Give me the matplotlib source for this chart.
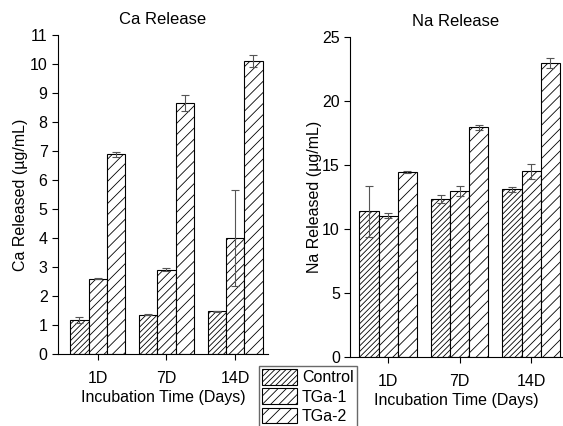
import matplotlib.pyplot as plt
import numpy as np
from matplotlib.patches import Patch

plt.rcParams['font.family'] = ['Liberation Sans', 'DejaVu Sans']
plt.rcParams['hatch.linewidth'] = 0.6
plt.rcParams['hatch.color'] = '#444444'

days = ['1D', '7D', '14D']
groups = ['Control', 'TGa-1', 'TGa-2']
hatches = ['//////', '////', '///']

ca_mean = [[1.18, 1.36, 1.47],
           [2.60, 2.90, 4.00],
           [6.88, 8.65, 10.10]]
ca_err = [[0.10, 0.03, 0.02],
          [0.03, 0.05, 1.65],
          [0.10, 0.28, 0.20]]

na_mean = [[11.40, 12.35, 13.10],
           [11.05, 13.00, 14.50],
           [14.45, 17.95, 23.00]]
na_err = [[2.00, 0.30, 0.20],
          [0.20, 0.40, 0.60],
          [0.07, 0.20, 0.40]]

fig = plt.figure(figsize=(5.63, 4.26), dpi=100)
ax1 = fig.add_axes([0.103, 0.169, 0.373, 0.749])
ax2 = fig.add_axes([0.622, 0.162, 0.376, 0.751])

x = np.arange(1, len(days) + 1)
w = 0.267


def draw(ax, means, errs, ymax, yticks, title, ylabel, xlim, ylpad):
    for i in range(len(groups)):
        ax.bar(x + (i - 1) * w, means[i], w, yerr=errs[i],
               color='white', edgecolor='black', linewidth=0.8,
               hatch=hatches[i],
               error_kw=dict(ecolor='#555555', elinewidth=0.8,
                             capsize=3, capthick=0.8))
    ax.set_ylim(0, ymax)
    ax.set_xlim(*xlim)
    ax.set_yticks(yticks)
    ax.set_xticks(x)
    ax.set_xticklabels(days)
    ax.spines['top'].set_visible(False)
    ax.spines['right'].set_visible(False)
    ax.tick_params(labelsize=11.5, length=4, width=0.8, direction='out')
    ax.tick_params(axis='x', pad=8)
    ax.set_title(title, fontsize=12, pad=8)
    ax.set_ylabel(ylabel, fontsize=11.5, labelpad=ylpad)
    ax.set_xlabel('Incubation Time (Days)', fontsize=11.5, labelpad=3)


draw(ax1, ca_mean, ca_err, 11, range(0, 12), 'Ca Release',
     'Ca Released (µg/mL)', (0.42, 3.48), 1)
draw(ax2, na_mean, na_err, 25, range(0, 26, 5), 'Na Release',
     'Na Released (µg/mL)', (0.47, 3.43), 0)

handles = [Patch(facecolor='white', edgecolor='black', linewidth=0.8,
                 hatch=h, label=g) for h, g in zip(hatches, groups)]
fig.legend(handles=handles, loc='upper left',
           bbox_to_anchor=(259 / 563, 1 - 366 / 426),
           fontsize=11.5, frameon=True, fancybox=False, edgecolor='#444444',
           handlelength=2.2, handleheight=1.1, handletextpad=0.3,
           labelspacing=0.2, borderpad=0.2, borderaxespad=0)

fig.savefig('out.png', dpi=100)
